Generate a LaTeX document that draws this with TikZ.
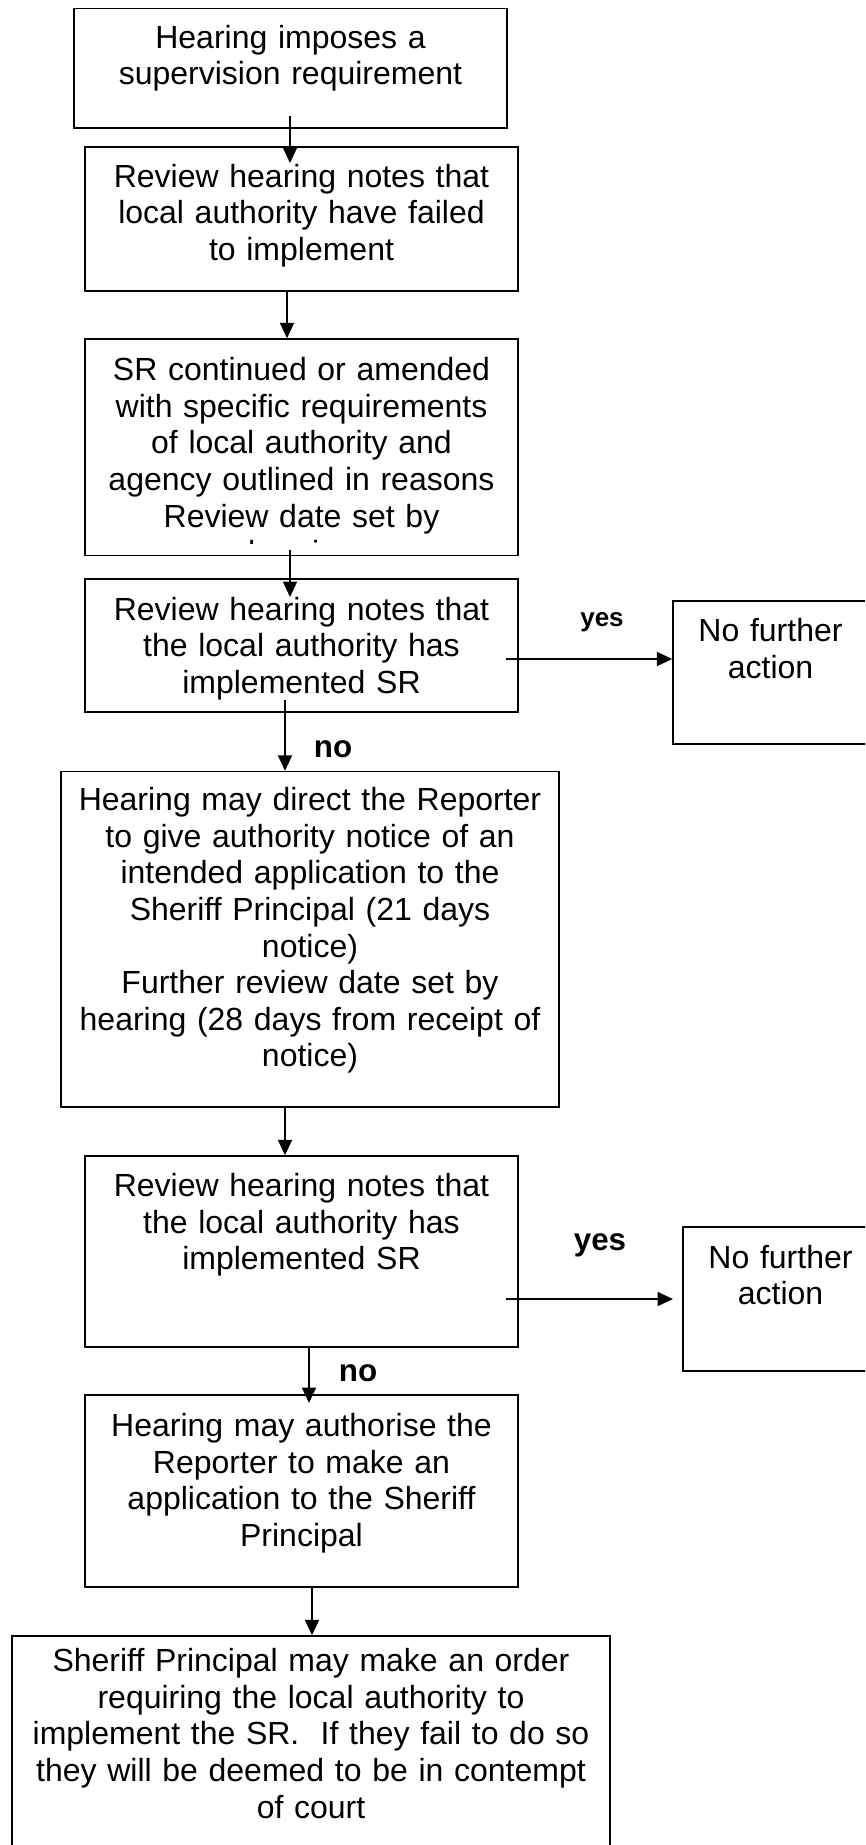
\documentclass[tikz,border=0pt]{standalone}
\usepackage{fontspec}
\setmainfont{Liberation Sans}
\usetikzlibrary{arrows.meta,fit}
\begin{document}
\begin{tikzpicture}[x=0.75pt,y=-0.75pt,
  box/.style={draw, line width=1.1pt, inner sep=0pt},
  txt/.style={align=center, inner sep=0pt, anchor=base,
    font=\fontsize{24pt}{27.45pt}\selectfont},
  lbl/.style={inner sep=0pt, anchor=base,
    font=\bfseries\fontsize{23.5pt}{27pt}\selectfont},
  smalllbl/.style={inner sep=0pt, anchor=base,
    font=\bfseries\fontsize{19.5pt}{23pt}\selectfont},
  arr/.style={line width=1pt, -{Triangle[length=11.5pt,width=10.5pt]}}]
\useasboundingbox (0,0) rectangle (865,1845);
\clip (0,0) rectangle (865,1845);
\fill[white] (0,0) rectangle (865,1845);

% boxes
\node[box, fit={(74,8.5) (507,128)}] (b1) {};
\node[box, fit={(85,147) (518,291)}] (b2) {};
\node[box, fit={(85,339) (518,555.5)}] (b3) {};
\node[box, fit={(85,579) (518,712)}] (b4) {};
\node[box, fit={(673,601) (868,744)}] (r1) {};
\node[box, fit={(61,771.5) (559,1107)}] (b5) {};
\node[box, fit={(85,1156) (518,1347)}] (b6) {};
\node[box, fit={(683,1227) (878,1371)}] (r2) {};
\node[box, fit={(85,1395) (518,1587)}] (b7) {};
\node[box, fit={(12,1636) (610,1880)}] (b8) {};

% texts
\node[txt, text width=320pt] (t1) at (290.5,48.3) {Hearing imposes a\\supervision requirement};
\node[txt, text width=320pt] (t2) at (301.5,187) {Review hearing notes that\\local authority have failed\\to implement};
\begin{scope}
  \clip (86,340) rectangle (517,543.5);
  \node[txt, text width=320pt] (t3) at (301.5,380.6) {SR continued or amended\\with specific requirements\\of local authority and\\agency outlined in reasons\\Review date set by\\hearing};
\end{scope}
\node[txt, text width=320pt] (t4) at (301.5,620) {Review hearing notes that\\the local authority has\\implemented SR};
\node[txt, text width=140pt] (tr1) at (770.5,641.7) {No further\\action};
\node[txt, text width=370pt] (t5) at (310,810.7) {Hearing may direct the Reporter\\to give authority notice of an\\intended application to the\\Sheriff Principal (21 days\\notice)\\Further review date set by\\hearing (28 days from receipt of\\notice)};
\node[txt, text width=320pt] (t6) at (301.5,1196.5) {Review hearing notes that\\the local authority has\\implemented SR};
\node[txt, text width=140pt] (tr2) at (780.5,1268.3) {No further\\action};
\node[txt, text width=320pt] (t7) at (301.5,1436.7) {Hearing may authorise the\\Reporter to make an\\application to the Sheriff\\Principal};
\node[txt, text width=440pt] (t8) at (311,1671.7) {Sheriff Principal may make an order\\requiring the local authority to\\implement the SR.~~If they fail to do so\\they will be deemed to be in contempt\\of court};

% labels
\node[smalllbl] (l1) at (602,626.5) {yes};
\node[lbl] (l2) at (600,1250) {yes};
\node[lbl] (l3) at (333,757) {no};
\node[lbl] (l4) at (358,1381) {no};

% connector end points
\coordinate (a1s) at (290,116);
\coordinate (a1e) at (290,163);
\coordinate (a2x) at (287,0);
\coordinate (a3s) at (290,550);
\coordinate (a3e) at (290,597);
\coordinate (a4s) at (285,700);
\coordinate (a5x) at (285,0);
\coordinate (a6x) at (309,0);
\coordinate (a6e) at (309,1403);
\coordinate (a7x) at (312,0);
\coordinate (y1s) at (506,659);
\coordinate (y2s) at (506,1299);
\coordinate (y2e) at (673,1299);

% connectors
\draw[arr] (a1s) -- (a1e);
\draw[arr] (b2.south -| a2x) -- (b3.north -| a2x);
\draw[arr] (a3s) -- (a3e);
\draw[arr] (a4s) -- (b5.north -| a4s);
\draw[arr] (b5.south -| a5x) -- (b6.north -| a5x);
\draw[arr] (b6.south -| a6x) -- (a6e);
\draw[arr] (b7.south -| a7x) -- (b8.north -| a7x);
\draw[arr] (y1s) -- (r1.west |- y1s);
\draw[arr] (y2s) -- (y2e);
\end{tikzpicture}
\end{document}
